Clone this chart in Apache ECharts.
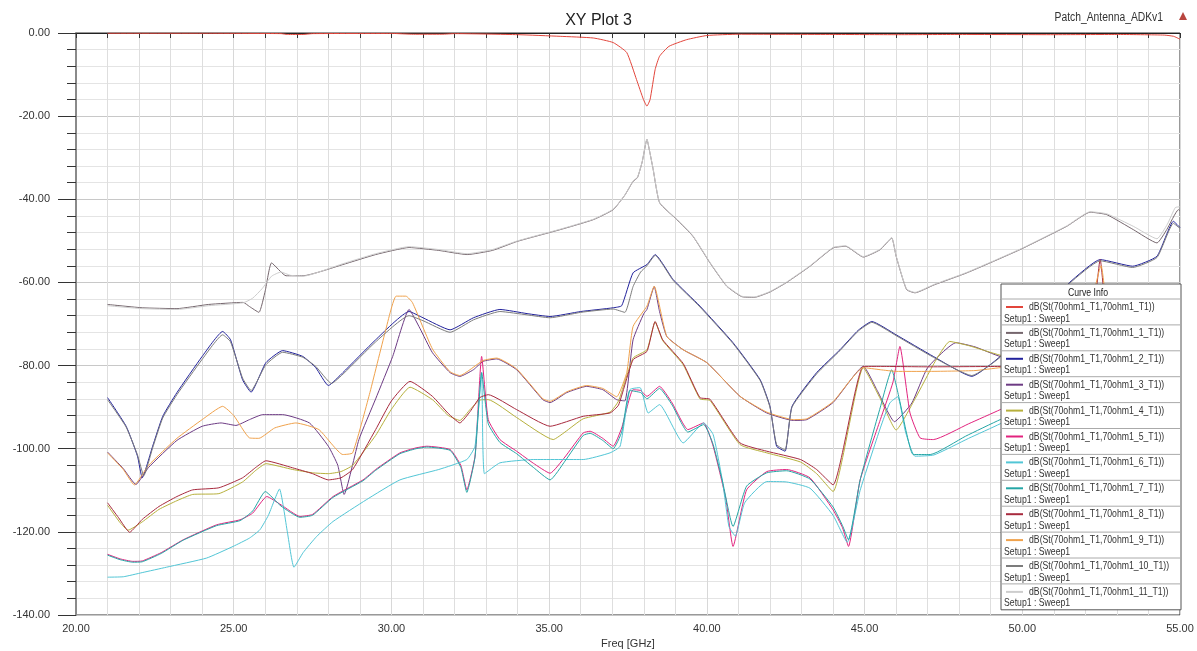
<!DOCTYPE html>
<html>
<head>
<meta charset="utf-8">
<title>XY Plot 3</title>
<script src="https://cdn.jsdelivr.net/npm/echarts@6.0.0/dist/echarts.min.js"></script>
<style>
  html, body { margin: 0; padding: 0; background: #fff; }
  #chart { width: 1197px; height: 651px; }
</style>
</head>
<body>
<div id="chart"></div>
<script>
// axis ranges / ticks
const xTicks = [20, 25, 30, 35, 40, 45, 50, 55];
const yTicks = [-140, -120, -100, -80, -60, -40, -20, 0];

// curve names (Curve Info) and colours
const curveNames = [
  "dB(St(70ohm1_T1,70ohm1_T1))",
  "dB(St(70ohm1_T1,70ohm1_1_T1))",
  "dB(St(70ohm1_T1,70ohm1_2_T1))",
  "dB(St(70ohm1_T1,70ohm1_3_T1))",
  "dB(St(70ohm1_T1,70ohm1_4_T1))",
  "dB(St(70ohm1_T1,70ohm1_5_T1))",
  "dB(St(70ohm1_T1,70ohm1_6_T1))",
  "dB(St(70ohm1_T1,70ohm1_7_T1))",
  "dB(St(70ohm1_T1,70ohm1_8_T1))",
  "dB(St(70ohm1_T1,70ohm1_9_T1))",
  "dB(St(70ohm1_T1,70ohm1_10_T1))",
  "dB(St(70ohm1_T1,70ohm1_11_T1))",
];
const curveColors = [
  "#e2453b", "#75666d", "#22229c", "#6d3b84", "#b7b03c", "#e2237e",
  "#52c6d6", "#25a6a6", "#a82a3e", "#f0a24c", "#7c7c7c", "#cdcdcd",
];

// [freq GHz, dB]
const s11 = [[21,-0.05],[24,-0.05],[26.5,-0.15],[26.7,-0.35],[27.2,-0.35],[27.5,-0.15],[30,-0.1],[30.7,-0.3],[31.6,-0.3],[32,-0.15],[34,-0.4],[35.35,-0.8],[36.4,-1.2],[37.03,-2.3],[37.46,-4.7],[37.77,-11.2],[37.99,-16],[38.1,-17.6],[38.2,-16],[38.36,-8.8],[38.5,-5.6],[38.8,-3.2],[39.36,-1.6],[40,-0.6],[41,-0.3],[44,-0.35],[46,-0.4],[48,-0.35],[51,-0.4],[53,-0.35],[54.5,-0.5],[54.8,-0.8],[55,-1.5]];

const s1 = [[21,-65.3],[22.1,-66.1],[23.2,-66.3],[24.2,-65.3],[25.3,-64.8],[25.5,-65.8],[25.8,-67.2],[26.0,-62],[26.2,-55.3],[26.66,-58.4],[27.2,-58.4],[28.46,-55.7],[29.5,-53.3],[30.56,-51.6],[31.5,-52.3],[32.4,-53.3],[33.2,-52.3],[34,-50.1],[35.35,-47.3],[36.4,-44.9],[37.03,-42.5],[37.4,-39],[37.66,-35.7],[37.8,-34.8],[37.95,-31],[38.1,-25.6],[38.2,-29],[38.3,-32.9],[38.5,-40.8],[39.05,-44.9],[39.56,-48.9],[40.1,-55.3],[40.63,-60.9],[41.1,-63.4],[41.5,-63.6],[42.0,-62.3],[42.53,-60],[43.27,-56.1],[44.0,-51.7],[44.4,-51.3],[44.96,-53.9],[45.5,-52.1],[45.86,-49.3],[46.0,-53.7],[46.33,-61.7],[46.6,-62.5],[47.2,-60.6],[48.24,-57.7],[49.93,-52.1],[51.41,-46.5],[52.15,-43.1],[52.68,-43.7],[53.52,-47.3],[54.27,-50.5],[54.58,-47.3],[54.95,-42.5],[55,-42.8]];

const s2 = [[21,-87.7],[21.59,-94.6],[21.95,-101.8],[22.1,-107],[22.43,-99.4],[22.75,-92.2],[23.2,-86.5],[24.0,-77.8],[24.65,-71.8],[24.9,-73.8],[25.28,-83.4],[25.55,-86.4],[26.02,-79.3],[26.55,-76.4],[27.19,-77.8],[27.6,-80.5],[28.0,-84.8],[28.46,-81.7],[29.5,-73.8],[30.56,-67],[31.0,-68.5],[31.86,-71.4],[32.6,-68.5],[33.44,-66.5],[34.3,-67.5],[35.03,-68.2],[36.0,-67],[37.03,-66.1],[37.3,-65.6],[37.66,-57.7],[38.1,-55.7],[38.36,-53.3],[38.93,-59.3],[39.78,-65.7],[40.83,-74.5],[41.69,-83.4],[42.0,-89.8],[42.21,-99.4],[42.48,-100.6],[42.7,-89.8],[43.48,-81.7],[44.22,-76.2],[44.8,-71.5],[45.23,-69.4],[46.0,-72.6],[47.18,-77.8],[48.4,-82.6],[49.3,-77.8],[50.2,-70],[51.0,-64],[51.5,-60],[52.47,-54.5],[53.5,-56.1],[54.27,-53.7],[54.79,-45.3],[55,-46.8]];

const s3 = [[21,-100.8],[21.5,-104.8],[21.9,-108.6],[22.3,-104.5],[23.2,-98],[24.0,-94.6],[24.6,-93.8],[25.07,-94.4],[25.5,-93],[25.92,-91.8],[26.55,-91.8],[27.4,-93.8],[28.0,-99.4],[28.3,-104],[28.5,-111],[28.97,-97.8],[29.5,-88],[30.04,-77.8],[30.56,-66.5],[30.9,-71],[31.3,-76.9],[31.86,-81.7],[32.17,-82.6],[32.6,-81],[32.9,-79],[33.34,-78.4],[33.97,-81],[34.8,-88.2],[35.03,-88.9],[35.56,-86.5],[36.19,-85],[36.7,-85.8],[37.14,-88.2],[37.4,-88.5],[37.66,-73.8],[38.0,-67.5],[38.1,-66.5],[38.33,-61],[38.5,-67],[38.73,-73],[39.25,-76.2],[40.0,-79.3],[41.05,-87.4],[41.9,-91.4],[42.74,-93.2],[43.17,-93],[44.0,-88.9],[44.96,-80.2],[45.4,-86],[45.95,-93.5],[46.5,-89],[47.0,-80.5],[47.9,-74.5],[48.5,-75.5],[49.3,-77.8],[50.5,-79],[52,-78],[53,-76],[55,-74]];

const s4 = [[21,-113.6],[21.4,-117.8],[21.65,-119.6],[22.1,-117.6],[22.63,-114.6],[23.2,-112.5],[23.7,-111],[24.53,-110.8],[25.28,-108],[25.7,-105.2],[26.02,-103.6],[26.87,-105],[27.5,-105.8],[28.0,-106],[28.4,-105.5],[28.77,-104],[29.5,-96.8],[30.0,-90.5],[30.59,-85.2],[31.3,-88.2],[31.8,-92],[32.17,-93.2],[32.5,-90.5],[32.8,-88.3],[33.07,-88.2],[33.97,-92.5],[35.13,-97.8],[35.5,-96],[36.08,-92.8],[36.93,-91.2],[37.2,-88.5],[37.66,-78.2],[38.1,-76.2],[38.36,-69.5],[38.6,-74],[39.25,-79.8],[39.78,-88],[40.1,-88.4],[41.05,-99],[41.9,-101],[42.97,-103.2],[43.48,-106],[44.0,-110.3],[44.96,-80.5],[45.5,-88],[46.0,-95.5],[46.6,-88],[47.2,-79.5],[47.7,-74.2],[48.3,-75.2],[49.3,-77.5],[50.5,-79],[52,-78],[55,-76]];

const s5 = [[21,-125.4],[21.4,-126.5],[21.8,-127.1],[22.1,-127],[22.7,-125],[23.4,-121.9],[24.46,-118.3],[25.2,-117.1],[25.6,-115.5],[26.05,-111.5],[26.5,-113.5],[27.1,-116.3],[27.5,-115.8],[28.15,-111.5],[29.1,-107.5],[29.5,-105],[30.27,-101],[30.78,-99.8],[31.12,-99.4],[31.86,-100.2],[32.2,-104],[32.39,-109.9],[32.65,-101.8],[32.86,-77.8],[33.07,-93],[33.44,-97.8],[33.97,-100.6],[34.5,-103.5],[35.03,-105.9],[35.5,-102],[36.08,-96.2],[36.3,-95.8],[36.7,-97.5],[37.03,-99.4],[37.3,-95],[37.66,-85.8],[37.9,-86],[38.1,-87.4],[38.5,-85],[38.9,-89],[39.4,-95.4],[39.9,-93.8],[40.2,-99.4],[40.6,-112],[40.83,-123.5],[41.26,-109.9],[41.9,-105.5],[42.53,-105],[43.27,-107],[44.0,-114.7],[44.3,-119],[44.49,-123.5],[44.86,-107.5],[45.5,-93],[45.9,-84],[46.12,-75.4],[46.44,-91.4],[46.76,-97.4],[47.18,-97.8],[48.3,-94],[49.3,-90.6],[50,-88],[52,-84],[55,-80]];

const s6 = [[21,-130.9],[21.5,-130.8],[22.1,-129.8],[22.87,-128.5],[24.14,-126.3],[24.98,-123.5],[25.5,-121.5],[25.83,-119.5],[26.1,-116],[26.45,-109.7],[26.7,-120],[26.91,-128.5],[27.2,-125],[27.63,-121.1],[28.15,-117.5],[29.2,-112.3],[30.27,-107.5],[31.5,-105],[32.39,-102.6],[32.65,-99.4],[32.86,-81.7],[32.95,-106],[33.44,-103.4],[34.5,-102.6],[36.08,-102.6],[36.93,-101],[37.25,-99.4],[37.56,-85.8],[37.88,-85.3],[38.14,-91.4],[38.5,-89.4],[39.25,-98.6],[39.9,-93.8],[40.2,-96.6],[40.5,-108],[40.7,-118.7],[40.9,-121],[41.2,-113],[41.9,-107.9],[42.53,-108],[43.27,-109.5],[44.0,-116],[44.45,-122.5],[44.86,-110],[45.5,-95],[45.8,-89],[46.05,-87.5],[46.3,-96],[46.6,-101.8],[47.2,-101.5],[48.3,-97.5],[49.3,-94],[50,-91],[52,-86],[55,-81]];

const s7 = [[21,-125.6],[21.4,-126.7],[21.8,-127.3],[22.1,-127.2],[22.7,-125.2],[23.4,-122],[24.46,-118.5],[25.2,-117.3],[25.6,-115],[26.0,-110.3],[26.5,-113.8],[27.1,-116.5],[27.5,-116],[28.15,-111.7],[29.1,-107.7],[29.5,-105.2],[30.27,-101.2],[30.78,-100],[31.12,-99.6],[31.86,-100.4],[32.2,-104.5],[32.39,-110.5],[32.65,-102],[32.86,-81.7],[33.07,-94],[33.44,-98.5],[33.97,-101.2],[34.5,-104.5],[35.03,-107.5],[35.5,-103],[36.08,-96.8],[36.3,-96.3],[36.7,-98],[37.03,-100],[37.3,-96],[37.56,-86],[37.9,-86.5],[38.1,-88],[38.5,-85.5],[38.9,-89.5],[39.4,-96],[39.9,-94.2],[40.2,-99],[40.5,-108],[40.83,-118.7],[41.26,-109],[41.9,-105.8],[42.53,-105.3],[43.27,-107.3],[44.0,-114],[44.3,-118.5],[44.49,-121.9],[44.86,-107.5],[45.5,-90],[45.86,-81],[46.1,-88],[46.33,-96.2],[46.54,-101.4],[47.08,-101.4],[48.2,-97],[49.3,-93],[50,-91],[52,-86],[55,-80]];

const s8 = [[21,-113],[21.35,-116.6],[21.7,-120.1],[22.1,-117],[22.63,-113.9],[23.2,-111.5],[23.7,-109.9],[24.53,-109.4],[25.28,-107],[25.7,-104.5],[26.02,-102.9],[26.87,-104.6],[27.5,-106],[28.0,-107.5],[28.4,-107],[28.77,-105],[29.5,-95.4],[30.0,-88.5],[30.59,-83.8],[31.3,-87.4],[31.8,-91.5],[32.17,-93.8],[32.5,-91],[32.8,-87.7],[33.07,-87],[33.97,-90.6],[35.03,-94.6],[36.08,-92.2],[36.93,-91.4],[37.2,-89.5],[37.66,-78.6],[38.1,-76.6],[38.36,-69.4],[38.6,-73.8],[39.25,-79.5],[39.78,-87.7],[40.1,-88.1],[41.05,-98.6],[41.9,-100.6],[42.97,-102.6],[43.48,-105],[44.0,-108.7],[44.96,-80.2],[45.5,-80.2],[47,-80.3],[49.3,-80.2],[50.5,-80],[51.5,-78],[52.2,-70],[52.47,-54.5],[52.7,-70],[53.3,-78],[55,-80]];

const s9 = [[21,-101],[21.5,-105],[21.85,-108.7],[22.3,-104],[23.2,-97.5],[24.0,-93],[24.65,-89.8],[25.0,-92],[25.5,-97.4],[25.8,-97.5],[26.3,-95],[26.97,-93.8],[27.7,-95.4],[28.46,-101.4],[28.77,-101],[29.3,-87],[29.8,-72],[30.15,-63.3],[30.46,-63.3],[30.67,-64.9],[31.3,-76],[31.86,-81.5],[32.17,-82.4],[32.9,-78.8],[33.34,-78.2],[33.97,-80.8],[34.8,-88],[35.03,-88.6],[35.56,-86.3],[36.19,-84.8],[36.7,-85.5],[37.14,-87.5],[37.46,-81.7],[37.66,-70.6],[38.1,-65.7],[38.33,-60.9],[38.73,-73],[39.25,-76.2],[40.0,-79.3],[41.05,-87.4],[41.9,-91.2],[42.74,-93],[43.17,-92.8],[44.0,-88.7],[44.96,-80.5],[45.5,-81],[46.0,-81.4],[47,-81.4],[48.5,-81.2],[49.3,-80.5],[50,-80],[51,-78],[52,-70],[52.5,-56],[52.65,-64],[53,-75],[54,-79],[55,-80]];

const s10 = [[21,-88.2],[21.59,-94.8],[21.95,-101.5],[22.15,-106.5],[22.43,-99.8],[22.75,-92.6],[23.2,-87],[24.0,-78.5],[24.65,-72.6],[24.9,-74.3],[25.28,-83],[25.55,-86],[26.02,-79.8],[26.55,-76.8],[27.19,-78],[27.6,-80.2],[28.1,-84.3],[28.5,-81.8],[29.5,-74.3],[30.56,-68],[31.0,-69.2],[31.86,-72],[32.6,-69],[33.44,-67],[34.3,-67.8],[35.03,-68.5],[36.0,-67.2],[37.03,-66.4],[37.4,-67.2],[37.66,-61],[37.9,-57.5],[38.1,-56],[38.36,-53.5],[38.93,-59.5],[39.78,-65.9],[40.83,-74.7],[41.69,-83.6],[42.0,-90],[42.21,-99],[42.48,-100.3],[42.7,-90],[43.48,-82],[44.22,-76.4],[44.8,-71.7],[45.23,-69.6],[46.0,-72.8],[47.18,-78],[48.4,-82.4],[49.3,-78],[50.2,-70.2],[51.0,-64.2],[51.5,-60.2],[52.47,-54.8],[53.5,-56.4],[54.27,-54],[54.79,-45.8],[55,-47]];

const s11b = [[21,-65.6],[22.1,-66.3],[23.2,-66.5],[24.2,-65.6],[25.3,-64.9],[25.6,-63.8],[25.9,-61.5],[26.2,-58.5],[26.5,-57.5],[26.8,-58.3],[27.2,-58.5],[28.46,-55.5],[29.5,-53.1],[30.56,-51.4],[31.5,-52.1],[32.4,-53.1],[33.2,-52.1],[34,-50],[35.35,-47.2],[36.4,-44.8],[37.03,-42.4],[37.4,-39],[37.66,-35.6],[37.8,-34.7],[37.95,-31],[38.1,-25.5],[38.2,-29],[38.3,-32.8],[38.5,-40.7],[39.05,-44.8],[39.56,-48.8],[40.1,-55.2],[40.63,-60.8],[41.1,-63.3],[41.5,-63.5],[42.0,-62.2],[42.53,-59.9],[43.27,-56],[44.0,-51.6],[44.4,-51.2],[44.96,-53.8],[45.5,-52],[45.86,-49.2],[46.0,-53.6],[46.33,-61.6],[46.6,-62.4],[47.2,-60.5],[48.24,-57.6],[49.93,-52],[51.41,-46.4],[52.15,-43],[52.68,-43.5],[53.52,-46.5],[54.27,-49.5],[54.6,-46],[54.85,-42],[55,-41.8]];

const curveData = [s11, s1, s2, s3, s4, s5, s6, s7, s8, s9, s10, s11b];

const chart = echarts.init(document.getElementById("chart"));

const fmt = (v) => v.toFixed(2);
const smallFont = "11px 'Liberation Sans', Arial, sans-serif";
const squeeze = 0.79; // HFSS legend text is narrow

// Curve Info box (HFSS style legend)
const boxX = 1001, boxY = 284, boxW = 180, rowH = 25.9, headH = 15;
const legendGraphics = [
  {
    type: "rect",
    shape: { x: boxX, y: boxY, width: boxW, height: headH + rowH * curveNames.length },
    style: { fill: "#fff", stroke: "#555", lineWidth: 1 },
    z: 100,
  },
  {
    type: "text",
    x: boxX + boxW / 2 - 3,
    y: boxY + headH / 2 + 1,
    scaleX: squeeze,
    style: { text: "Curve Info", fill: "#222", font: smallFont, align: "center", verticalAlign: "middle" },
    z: 101,
  },
];
curveNames.forEach((name, i) => {
  const top = boxY + headH + rowH * i;
  legendGraphics.push(
    {
      type: "line",
      shape: { x1: boxX, y1: top, x2: boxX + boxW, y2: top },
      style: { stroke: "#aaa", lineWidth: 1 },
      z: 101,
    },
    {
      type: "line",
      shape: { x1: boxX + 5, y1: top + 8, x2: boxX + 22, y2: top + 8 },
      style: { stroke: curveColors[i], lineWidth: 2 },
      z: 101,
    },
    {
      type: "text",
      x: boxX + 28,
      y: top + 8,
      scaleX: squeeze,
      style: { text: name, fill: "#333", font: smallFont, verticalAlign: "middle" },
      z: 101,
    },
    {
      type: "text",
      x: boxX + 3,
      y: top + 19.5,
      scaleX: squeeze,
      style: { text: "Setup1 : Sweep1", fill: "#333", font: smallFont, verticalAlign: "middle" },
      z: 101,
    }
  );
});

const option = {
  animation: false,
  backgroundColor: "#fff",
  textStyle: { fontFamily: "'Liberation Sans', Arial, sans-serif" },
  title: {
    text: "XY Plot 3",
    left: "center",
    top: 8,
    textStyle: { fontSize: 16, fontWeight: "normal", color: "#222" },
  },
  grid: {
    left: 76,
    right: 17,
    top: 33,
    bottom: 36,
    containLabel: false,
    outerBoundsMode: "none",
    show: true,
    borderColor: "#333",
    borderWidth: 1,
  },
  xAxis: {
    type: "value",
    min: xTicks[0],
    max: xTicks[xTicks.length - 1],
    interval: 5,
    name: "Freq [GHz]",
    nameLocation: "middle",
    nameGap: 21,
    nameTextStyle: { fontSize: 11, color: "#333" },
    axisLine: { lineStyle: { color: "#222", width: 1 } },
    axisTick: { length: 5, lineStyle: { color: "#333" } },
    minorTick: { show: true, splitNumber: 5, length: 5, lineStyle: { color: "#333" } },
    axisLabel: { formatter: fmt, margin: 8, fontSize: 11, color: "#333" },
    splitLine: { show: true, lineStyle: { color: "#d8d8d8", width: 1 } },
    minorSplitLine: { show: true, lineStyle: { color: "#dedede", width: 1 } },
  },
  yAxis: {
    type: "value",
    min: yTicks[0],
    max: yTicks[yTicks.length - 1],
    interval: 20,
    name: "Y1",
    nameLocation: "middle",
    nameGap: 60,
    nameRotate: 90,
    nameTextStyle: { fontSize: 11, color: "#444" },
    axisLine: { show: true, lineStyle: { color: "#8a8a8a", width: 2 } },
    axisTick: { show: true, length: 18, lineStyle: { color: "#333" } },
    minorTick: { show: true, splitNumber: 5, length: 9, lineStyle: { color: "#333" } },
    axisLabel: { formatter: fmt, margin: 26, fontSize: 11, color: "#333" },
    splitLine: { show: true, lineStyle: { color: "#c8c8c8", width: 1 } },
    minorSplitLine: { show: true, lineStyle: { color: "#e4e4e4", width: 1 } },
  },
  series: curveData.map((data, i) => ({
    name: curveNames[i],
    type: "line",
    data: data,
    showSymbol: false,
    symbol: "none",
    smooth: 0.15,
    clip: true,
    lineStyle: { color: curveColors[i], width: 1 },
    z: 2 + i,
  })),
  graphic: [
    {
      type: "text",
      x: 1163,
      y: 18,
      scaleX: 0.86,
      style: { text: "Patch_Antenna_ADKv1", fill: "#333", font: "12px 'Liberation Sans', Arial, sans-serif", align: "right", verticalAlign: "middle" },
    },
    {
      type: "polygon",
      shape: { points: [[1179, 20], [1187, 20], [1183, 12]] },
      style: { fill: "#b8453f" },
    },
    ...legendGraphics,
  ],
};

chart.setOption(option);
</script>
</body>
</html>
